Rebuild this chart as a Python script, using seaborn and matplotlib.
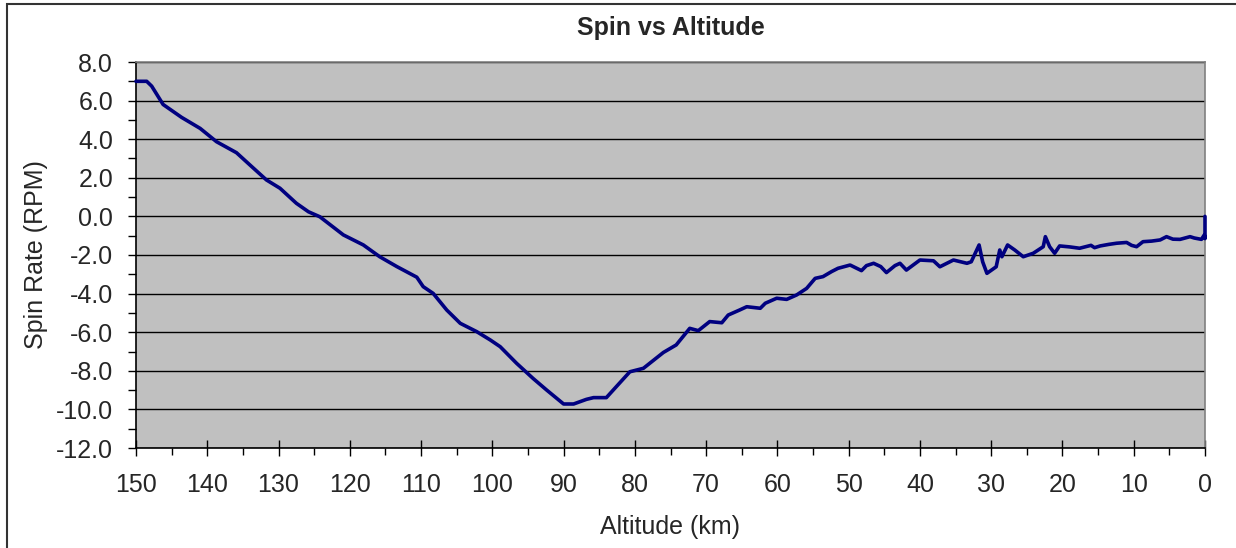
import matplotlib
matplotlib.use("Agg")
import matplotlib.pyplot as plt
import matplotlib.ticker as mticker
from matplotlib.patches import Rectangle
import seaborn as sns

# Spin rate trace (altitude descending)
altitude_km = [
    150.0, 148.5, 147.8, 146.2, 143.6, 141.0, 138.7, 135.9, 134.0, 131.7,
    129.8, 127.5, 125.8, 124.2, 120.9, 118.1, 115.8, 113.4, 110.6, 109.7,
    108.3, 106.4, 104.5, 102.2, 100.3, 98.9, 96.6, 94.3, 92.4, 90.0,
    88.6, 86.8, 85.8, 84.0, 82.6, 80.7, 78.8, 76.0, 74.2, 72.3,
    71.1, 69.5, 67.8, 66.9, 65.3, 64.3, 62.4, 61.7, 60.1, 58.7,
    57.3, 55.9, 54.7, 53.6, 52.4, 51.5, 49.8, 48.2, 47.5, 46.5,
    45.5, 44.7, 43.5, 42.8, 41.9, 40.0, 38.1, 37.2, 35.3, 33.4,
    32.8, 31.7, 31.2, 30.6, 29.3, 28.8, 28.5, 27.7, 26.7, 25.5,
    24.1, 22.7, 22.4, 21.8, 21.1, 20.4, 19.0, 17.6, 16.0, 15.5,
    14.7, 13.5, 12.4, 11.0, 10.3, 9.6, 8.7, 7.5, 6.3, 5.4,
    4.5, 3.5, 2.1, 1.5, 0.5, 0.1, 0.0, 0.0,
]
spin_rpm = [
    7.00, 7.00, 6.75, 5.80, 5.13, 4.56, 3.87, 3.30, 2.66, 1.89,
    1.46, 0.68, 0.24, -0.02, -0.96, -1.48, -2.09, -2.60, -3.15, -3.64,
    -3.99, -4.85, -5.54, -5.97, -6.40, -6.75, -7.61, -8.39, -8.99, -9.72,
    -9.72, -9.48, -9.39, -9.39, -8.82, -8.05, -7.87, -7.05, -6.66, -5.80,
    -5.92, -5.45, -5.51, -5.11, -4.85, -4.68, -4.76, -4.50, -4.24, -4.30,
    -4.07, -3.73, -3.21, -3.12, -2.86, -2.69, -2.52, -2.81, -2.55, -2.43,
    -2.60, -2.91, -2.55, -2.43, -2.78, -2.26, -2.30, -2.61, -2.26, -2.43,
    -2.35, -1.48, -2.35, -2.95, -2.61, -1.74, -2.09, -1.48, -1.74, -2.09,
    -1.91, -1.57, -1.05, -1.57, -1.91, -1.53, -1.58, -1.65, -1.50, -1.62,
    -1.53, -1.45, -1.39, -1.35, -1.50, -1.57, -1.31, -1.28, -1.22, -1.05,
    -1.18, -1.19, -1.05, -1.12, -1.19, -0.96, -1.15, 0.00,
]

x_major = list(range(0, 151, 10))
y_major = list(range(-12, 9, 2))

sns.set_theme(style="white")
plt.rcParams["font.family"] = ["Liberation Sans", "DejaVu Sans"]

fig = plt.figure(figsize=(12.36, 5.48), dpi=100)
ax = fig.add_axes([136 / 1236, 1 - 448 / 548, 1069 / 1236, 386 / 548])
ax.set_facecolor("#C0C0C0")

sns.lineplot(x=altitude_km, y=spin_rpm, sort=False, estimator=None,
             color="#000080", lw=2.6, zorder=3, clip_on=False, ax=ax)

ax.set_xlim(150, 0)
ax.set_ylim(-12, 8)
ax.xaxis.set_major_locator(mticker.FixedLocator(x_major))
ax.xaxis.set_minor_locator(mticker.MultipleLocator(5))
ax.yaxis.set_major_locator(mticker.FixedLocator(y_major))
ax.yaxis.set_minor_locator(mticker.MultipleLocator(1))
ax.yaxis.set_major_formatter(mticker.FuncFormatter(lambda v, p: f"{v:.1f}"))
ax.xaxis.set_major_formatter(mticker.FuncFormatter(lambda v, p: f"{v:.0f}"))

ax.grid(axis="y", which="major", color="black", lw=1.0)
ax.grid(axis="x", visible=False)
ax.set_axisbelow(True)

ax.tick_params(axis="x", which="major", direction="inout", length=11.5,
               width=1, color="black", labelsize=18, pad=12.5, bottom=True)
ax.tick_params(axis="x", which="minor", direction="out", length=5,
               width=1, color="black", bottom=True)
ax.tick_params(axis="y", which="both", direction="out", length=6,
               width=1, color="black", labelsize=18, pad=10.5, left=True)

for side in ["left", "bottom"]:
    ax.spines[side].set_color("black")
    ax.spines[side].set_linewidth(1.2)
for side in ["top", "right"]:
    ax.spines[side].set_color("#808080")
    ax.spines[side].set_linewidth(1.2)

ax.set_title("Spin vs Altitude", fontsize=18, fontweight="bold",
             y=(448 - 28) / 386, va="center", pad=0)
ax.set_xlabel("Altitude (km)", fontsize=18)
ax.xaxis.label.set_va("center")
ax.xaxis.set_label_coords(0.5, (448 - 527) / 386)
ax.set_ylabel("Spin Rate (RPM)", fontsize=18)
ax.yaxis.label.set_va("center")
ax.yaxis.set_label_coords((36 - 136) / 1069, 0.5)

# chart-area border (only left/top edges fall inside the image)
fig.add_artist(Rectangle((7 / 1236, -0.1), 1.2, 0.1 + (548 - 4) / 548,
                         transform=fig.transFigure, fill=False,
                         edgecolor="#333333", lw=1.5))

plt.savefig("out.png", dpi=100)
